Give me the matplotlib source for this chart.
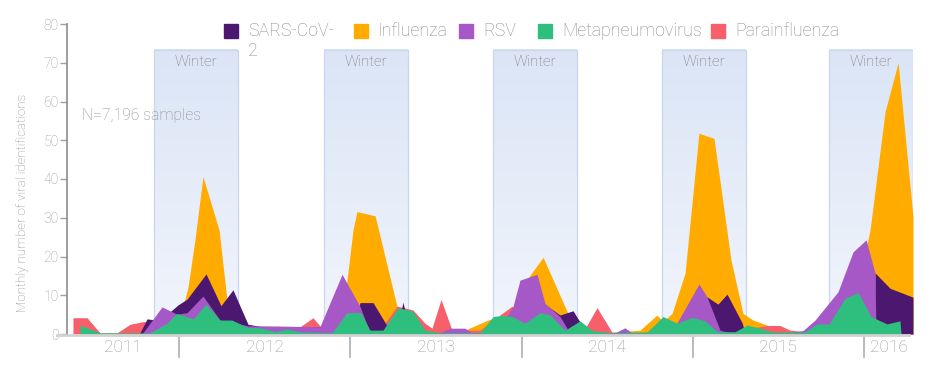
import numpy as np
import matplotlib.pyplot as plt
import matplotlib.transforms as mtransforms
from matplotlib.patches import Rectangle
from matplotlib.lines import Line2D
from matplotlib.colors import LinearSegmentedColormap

plt.rcParams['font.family'] = ['Roboto', 'DejaVu Sans']
plt.rcParams['font.weight'] = 'light'

# Series (x in decimal years, y = monthly identifications)
years_flu = [2012.006, 2012.029, 2012.053, 2012.093, 2012.140, 2012.234, 2012.280, 2012.327,
             2012.940, 2012.981, 2013.016, 2013.039, 2013.145, 2013.273, 2013.320, 2013.641,
             2013.670, 2013.804, 2013.933, 2014.050, 2014.126, 2014.266, 2014.295, 2014.342,
             2014.517, 2014.692, 2014.791, 2014.826, 2014.879, 2014.955, 2015.036, 2015.124,
             2015.223, 2015.293, 2015.352, 2015.434, 2015.509, 2015.626, 2015.860, 2016.023,
             2016.035, 2016.123, 2016.199, 2016.286]
flu = [0.3, 8.0, 12.2, 24.3, 40.6, 26.8, 8.8, 0.3,
       0.3, 13.9, 26.8, 31.6, 30.5, 7.1, 0.3, 0.3,
       1.0, 3.6, 5.0, 15.2, 19.8, 5.8, 2.8, 0.3,
       0.3, 1.0, 4.9, 3.2, 5.3, 15.7, 51.8, 50.5,
       19.1, 5.3, 3.6, 2.3, 1.0, 0.5, 0.5, 24.3,
       26.8, 57.4, 70.0, 30.3]

years_para = [2011.381, 2011.463, 2011.539, 2011.638, 2011.714, 2011.790, 2011.889, 2011.977,
              2012.123, 2012.473, 2012.695, 2012.782, 2012.835, 2012.969, 2013.174, 2013.273,
              2013.366, 2013.436, 2013.477, 2013.530, 2013.594, 2013.758, 2013.874, 2013.945,
              2014.020, 2014.137, 2014.225, 2014.359, 2014.441, 2014.528, 2014.750, 2015.042,
              2015.159, 2015.276, 2015.434, 2015.509, 2015.568, 2015.685, 2016.286]
para = [4.2, 4.2, 0.3, 0.3, 2.5, 3.2, 3.0, 1.5,
        0.5, 0.5, 1.5, 4.2, 1.5, 1.0, 1.0, 7.2,
        6.2, 2.8, 1.5, 8.9, 1.0, 1.0, 4.9, 7.2,
        3.0, 2.0, 1.0, 0.5, 6.8, 0.5, 0.5, 0.5,
        1.0, 1.0, 2.2, 2.2, 1.0, 0.5, 0.3]

years_sars = [2011.772, 2011.813, 2011.889, 2011.994, 2012.047, 2012.158, 2012.245, 2012.315,
              2012.403, 2012.473, 2012.823, 2013.010, 2013.057, 2013.133, 2013.215, 2013.279,
              2013.308, 2013.337, 2013.466, 2014.050, 2014.143, 2014.225, 2014.301, 2014.371,
              2014.458, 2015.042, 2015.083, 2015.147, 2015.200, 2015.288, 2015.305, 2016.058,
              2016.064, 2016.152, 2016.286]
sars = [0.3, 3.9, 3.5, 7.5, 9.0, 15.5, 7.3, 11.4,
        2.5, 2.0, 1.9, 0.5, 8.1, 8.1, 2.1, 2.5,
        8.2, 2.5, 0.3, 0.3, 7.5, 4.9, 6.0, 1.0,
        0.3, 0.3, 9.6, 7.7, 10.3, 2.9, 0.3, 0.0,
        15.8, 11.8, 9.5]

years_rsv = [2011.784, 2011.901, 2011.988, 2012.047, 2012.140, 2012.239, 2012.403, 2012.823,
             2012.952, 2013.057, 2013.115, 2013.524, 2013.582, 2013.670, 2013.711, 2013.845,
             2013.892, 2013.950, 2013.991, 2014.091, 2014.137, 2014.225, 2014.272, 2014.546,
             2014.604, 2014.645, 2014.838, 2014.896, 2015.036, 2015.083, 2015.159, 2015.218,
             2015.568, 2015.644, 2015.714, 2015.848, 2015.936, 2016.012, 2016.064, 2016.070]
rsv = [0.0, 7.0, 5.1, 5.5, 9.8, 3.6, 2.1, 1.9,
       15.4, 7.1, 0.3, 0.3, 1.5, 1.5, 0.3, 0.5,
       3.0, 7.1, 13.9, 15.4, 7.9, 4.5, 1.0, 0.3,
       1.6, 0.3, 0.3, 1.9, 12.9, 9.6, 1.0, 0.3,
       0.3, 0.9, 3.6, 10.9, 21.2, 24.3, 15.8, 0.0]

years_meta = [2011.422, 2011.539, 2011.831, 2011.930, 2011.988, 2012.082, 2012.158, 2012.239,
              2012.309, 2012.403, 2012.473, 2012.566, 2012.631, 2012.707, 2012.893, 2012.981,
              2013.063, 2013.115, 2013.191, 2013.279, 2013.366, 2013.436, 2013.524, 2013.758,
              2013.834, 2013.892, 2013.945, 2014.020, 2014.108, 2014.166, 2014.254, 2014.342,
              2014.412, 2014.517, 2014.733, 2014.826, 2014.908, 2014.996, 2015.072, 2015.142,
              2015.247, 2015.317, 2015.393, 2015.469, 2015.655, 2015.726, 2015.796, 2015.889,
              2015.965, 2016.041, 2016.134, 2016.210, 2016.216]
meta = [2.3, 0.3, 0.3, 2.8, 5.3, 3.9, 7.7, 3.6,
        3.6, 1.7, 1.6, 0.6, 1.3, 0.5, 0.3, 5.5,
        5.5, 1.0, 1.0, 6.8, 5.9, 1.0, 0.3, 0.3,
        4.5, 4.8, 4.5, 2.8, 5.5, 4.9, 1.0, 3.4,
        0.9, 0.3, 0.5, 4.5, 2.8, 4.3, 3.4, 0.6,
        0.6, 2.3, 1.5, 0.5, 0.5, 2.6, 2.6, 9.2,
        10.7, 4.5, 2.6, 3.4, 0.0]

names = ['SARS-CoV-2', 'Influenza', 'RSV', 'Metapneumovirus', 'Parainfluenza']
colors = ['#4B176F', '#FFAB00', '#A659C6', '#2EBF7F', '#F7606B']

winter_start = [2011.854, 2012.847, 2013.834, 2014.820, 2015.796]
winter_len = 0.49
winter_top = 73.3

x_min, x_max = 2011.346, 2016.286

fig = plt.figure(figsize=(9.4, 3.77), dpi=100)
ax = fig.add_axes([67 / 940, 1 - 334 / 377, 846 / 940, 310 / 377])

# winter shading
grad = LinearSegmentedColormap.from_list('winter', ['#f1f5fc', '#dbe5f6'])
for ws in winter_start:
    ax.imshow(np.linspace(0, 1, 64).reshape(-1, 1), cmap=grad, origin='lower', aspect='auto',
              extent=[ws, ws + winter_len, 0, winter_top], zorder=1)
    ax.add_patch(Rectangle((ws, 0), winter_len, winter_top, fill=False,
                           edgecolor='#c9d6ee', lw=0.9, zorder=1.5))
    ax.text(ws + winter_len / 2, 70.2, 'Winter', ha='center', va='center',
            fontsize=11, color='#7a7a7a', zorder=8)

# areas, back to front
layers = [(years_flu, flu, colors[1]), (years_para, para, colors[4]),
          (years_sars, sars, colors[0]), (years_rsv, rsv, colors[2]),
          (years_meta, meta, colors[3])]
for z, (xs, ys, c) in enumerate(layers):
    ax.fill_between(xs, 0, ys, color=c, lw=0, zorder=2 + z)

ax.set_xlim(x_min, x_max)
ax.set_ylim(0, 80)
ax.set_yticks(range(0, 81, 10))
ax.set_xticks([])
for s in ['top', 'right', 'bottom']:
    ax.spines[s].set_visible(False)
ax.spines['left'].set_color('#8c8c8c')
ax.spines['left'].set_linewidth(1.2)
ax.tick_params(axis='y', length=5, width=1, color='#a0a0a0', labelcolor='#9a9a9a',
               labelsize=10, pad=1)

# baseline, year separators and year labels
fig.add_artist(Line2D([57 / 940, 909 / 940], [1 - 335 / 377] * 2, color='#d2d2d2', lw=2))
trans = mtransforms.blended_transform_factory(ax.transData, ax.transAxes)
for yr in range(2012, 2017):
    ax.plot([yr, yr], [-0.006, -0.075], transform=trans, color='#a9afb8', lw=1.2, clip_on=False)
for yr in range(2011, 2017):
    lo, hi = max(yr, x_min), min(yr + 1, x_max)
    ax.text((lo + hi) / 2, -0.042, str(yr), transform=trans, ha='center', va='center',
            fontsize=12.5, color='#9a9a9a')

fig.text(23 / 940, 1 - 203 / 377, 'Monthly number of viral identifications', rotation=90,
         ha='center', va='center', fontsize=9.5, color='#8c8c8c')
ax.text(0.0177, 0.706, 'N=7,196 samples', transform=ax.transAxes, fontsize=11.3,
        color='#8c8c8c', va='center', zorder=8)

# legend drawn by hand (SARS-CoV-2 label wraps like the original)
leg_x = [224, 354, 459, 538, 711]
leg_labels = ['SARS-CoV-\n2', 'Influenza', 'RSV', 'Metapneumovirus', 'Parainfluenza']
for lx, lab, c in zip(leg_x, leg_labels, colors):
    fig.add_artist(Rectangle((lx / 940, 1 - 37.5 / 377), 14 / 940, 14 / 377, color=c,
                             transform=fig.transFigure))
    fig.text((lx + 24) / 940, 1 - 22.5 / 377, lab, ha='left', va='top', fontsize=12.8,
             color='#8a8a8a', linespacing=1.12)

fig.savefig('out.png', dpi=100)
